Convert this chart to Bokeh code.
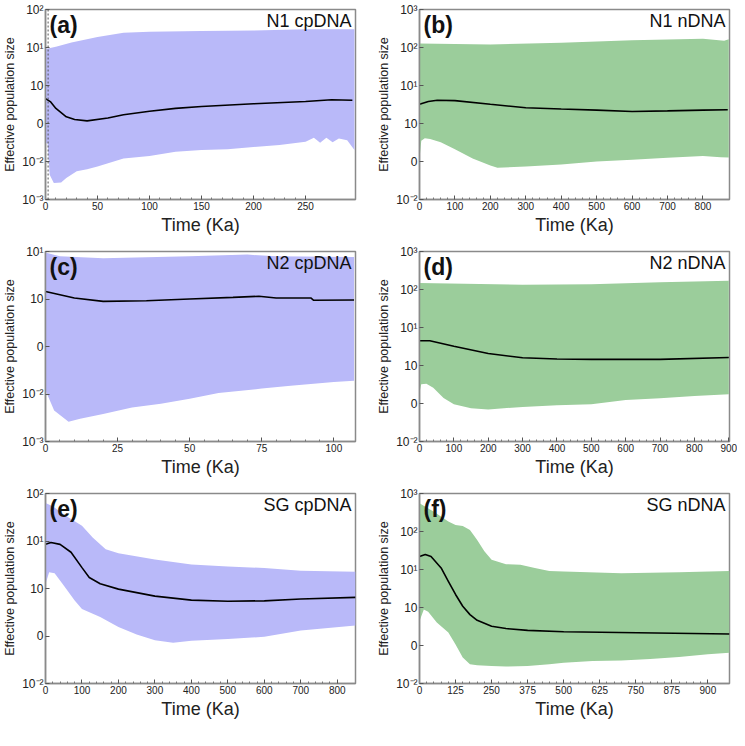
from bokeh.plotting import figure
from bokeh.layouts import column, row
from bokeh.models import FixedTicker, Label, Span, Range1d
from bokeh.embed import file_html
from bokeh.resources import INLINE

# ---------------- data ----------------
# (a) N1 cpDNA
a_up_t = [0, 10, 25, 50, 75, 100, 150, 200, 250, 297]
a_up_v = [9.1, 10.4, 13.5, 19, 24.5, 26, 27, 28, 30, 30]
a_med_t = [0, 5, 10, 20, 28, 40, 60, 75, 100, 125, 150, 200, 250, 275, 295]
a_med_v = [0.45, 0.37, 0.25, 0.15, 0.127, 0.117, 0.14, 0.17, 0.21, 0.25, 0.28, 0.33, 0.38, 0.42, 0.41]
a_lo_t = [0, 2, 4, 8, 15, 20, 30, 40, 50, 75, 100, 125, 150, 175, 200, 225, 250, 258, 264, 270, 276, 282, 290, 297]
a_lo_v = [0.03, 0.03, 0.0045, 0.0027, 0.0028, 0.0037, 0.0055, 0.0063, 0.0074, 0.012, 0.014, 0.018, 0.02, 0.021,
          0.024, 0.027, 0.033, 0.042, 0.031, 0.042, 0.032, 0.04, 0.036, 0.02]
a_marker_t = 2.5
a_xmax = 298

# (b) N1 nDNA
b_up_t = [0, 200, 400, 600, 800, 860, 873]
b_up_v = [128, 120, 134, 154, 170, 150, 165]
b_med_t = [0, 25, 50, 100, 200, 300, 400, 500, 600, 700, 800, 870]
b_med_v = [3.2, 3.8, 4.1, 4.0, 3.2, 2.6, 2.4, 2.25, 2.07, 2.15, 2.25, 2.3]
b_lo_t = [0, 5, 15, 30, 60, 100, 150, 200, 220, 300, 400, 500, 600, 700, 800, 850, 873]
b_lo_v = [0.12, 0.35, 0.41, 0.39, 0.32, 0.21, 0.12, 0.078, 0.068, 0.074, 0.083, 0.1, 0.112, 0.126, 0.14, 0.13, 0.128]
b_xmax = 875

# (c) N2 cpDNA
c_up_t = [0, 5, 20, 50, 70, 80, 107]
c_up_v = [9.5, 7.9, 7.2, 7.9, 8.6, 7.9, 7.7]
c_med_t = [0, 10, 20, 35, 50, 65, 74, 80, 92, 93, 107]
c_med_v = [1.44, 1.05, 0.89, 0.92, 1.0, 1.08, 1.14, 1.05, 1.05, 0.94, 0.95]
c_lo_t = [0, 3, 8, 12, 20, 30, 40, 50, 60, 75, 85, 100, 107]
c_lo_v = [0.012, 0.0045, 0.0026, 0.003, 0.0038, 0.0052, 0.0062, 0.0079, 0.0105, 0.013, 0.015, 0.0178, 0.019]
c_xmax = 107.5

# (d) N2 nDNA
d_up_t = [0, 300, 500, 700, 900]
d_up_v = [148, 134, 138, 154, 170]
d_med_t = [0, 30, 100, 200, 300, 400, 500, 700, 900]
d_med_v = [4.5, 4.5, 3.2, 2.07, 1.6, 1.48, 1.45, 1.45, 1.63]
d_lo_t = [0, 5, 20, 40, 70, 100, 150, 200, 300, 400, 500, 600, 700, 800, 900]
d_lo_v = [0.2, 0.32, 0.33, 0.26, 0.14, 0.095, 0.075, 0.07, 0.081, 0.09, 0.095, 0.124, 0.137, 0.158, 0.174]
d_xmax = 902

# (e) SG cpDNA
e_up_t = [0, 20, 50, 80, 100, 130, 165, 200, 300, 400, 500, 600, 700, 850]
e_up_v = [63, 54, 36, 26, 21, 11.7, 6.7, 5.5, 4.1, 3.2, 2.9, 2.7, 2.35, 2.25]
e_med_t = [0, 15, 40, 70, 100, 120, 150, 200, 300, 400, 500, 600, 700, 850]
e_med_v = [8.5, 9.3, 8.5, 5.8, 2.75, 1.7, 1.26, 0.97, 0.69, 0.57, 0.54, 0.55, 0.6, 0.65]
e_lo_t = [0, 10, 25, 50, 80, 100, 150, 200, 250, 300, 350, 400, 500, 600, 700, 850]
e_lo_v = [1.24, 2.2, 2.1, 1.15, 0.56, 0.37, 0.25, 0.155, 0.107, 0.081, 0.072, 0.079, 0.086, 0.096, 0.13, 0.166]
e_xmax = 850

# (f) SG nDNA
f_up_t = [0, 50, 100, 125, 150, 175, 200, 225, 250, 300, 350, 400, 450, 500, 700, 900, 1075]
f_up_v = [550, 330, 182, 148, 140, 110, 60, 30, 18, 13.8, 13.3, 10.9, 9.2, 8.9, 8.0, 8.5, 9.2]
f_med_t = [0, 20, 40, 75, 100, 125, 150, 175, 200, 250, 300, 375, 500, 1075]
f_med_v = [22, 25, 22, 11, 4.9, 2.2, 1.08, 0.65, 0.46, 0.32, 0.28, 0.25, 0.23, 0.2]
f_lo_t = [0, 15, 30, 60, 100, 125, 150, 175, 200, 250, 300, 375, 450, 500, 600, 700, 800, 900, 1000, 1075]
f_lo_v = [0.44, 0.88, 0.77, 0.4, 0.22, 0.107, 0.048, 0.032, 0.03, 0.029, 0.028, 0.029, 0.032, 0.035, 0.039,
          0.04, 0.044, 0.05, 0.059, 0.064]
f_xmax = 1075

# tick labels
y_tick_labels = {1000: "10³", 100: "10²", 10: "10¹", 1: "10", 0.1: "0", 0.01: "10⁻²", 0.001: "10⁻³"}
a_xticks = [0, 50, 100, 150, 200, 250]
b_xticks = [0, 100, 200, 300, 400, 500, 600, 700, 800]
c_xticks = [0, 25, 50, 75, 100]
d_xticks = [0, 100, 200, 300, 400, 500, 600, 700, 800, 900]
e_xticks = [0, 100, 200, 300, 400, 500, 600, 700, 800]
f_xticks = [0, 125, 250, 375, 500, 625, 750, 875, 1000]
f_xtick_labels = {1000: "900"}

titles = ["N1 cpDNA", "N1 nDNA", "N2 cpDNA", "N2 nDNA", "SG cpDNA", "SG nDNA"]
letters = ["(a)", "(b)", "(c)", "(d)", "(e)", "(f)"]

BLUE = "#b9b9f9"
GREEN = "#9bcd9b"
FONT = "Liberation Sans"
FW, FH = 310, 190


def make_panel(left, up_t, up_v, med_t, med_v, lo_t, lo_v, xmax, ylo, yhi, xticks,
               color, letter, title, xlabels=None):
    p = figure(frame_width=FW, frame_height=FH, output_backend="svg", toolbar_location=None,
               y_axis_type="log", x_range=Range1d(0, xmax), y_range=Range1d(ylo, yhi),
               min_border_left=32 if left else 58, min_border_right=6 if left else 8,
               min_border_top=9, min_border_bottom=43)
    p.xgrid.visible = False
    p.ygrid.visible = False
    p.background_fill_color = "white"
    p.border_fill_color = "white"
    p.outline_line_color = "#8a8a8a"
    p.outline_line_width = 1.5

    xs = list(up_t) + list(lo_t[::-1])
    ys = list(up_v) + list(lo_v[::-1])
    p.patch(xs, ys, fill_color=color, line_color=None)
    p.line(med_t, med_v, line_color="black", line_width=1.6)

    # y axis
    yt = [v for v in [0.001, 0.01, 0.1, 1, 10, 100, 1000] if ylo <= v <= yhi]
    p.yaxis.ticker = FixedTicker(ticks=yt)
    p.yaxis.major_label_overrides = {k: v for k, v in y_tick_labels.items() if k in yt}
    p.yaxis.axis_label = "Effective population size"
    # x axis
    minor = []
    for i in range(len(xticks) - 1):
        step = (xticks[i + 1] - xticks[i]) / 5
        minor += [xticks[i] + step * k for k in range(1, 5)]
    p.xaxis.ticker = FixedTicker(ticks=xticks, minor_ticks=minor)
    if xlabels:
        p.xaxis.major_label_overrides = xlabels
    p.xaxis.axis_label = "Time (Ka)"

    for ax in (p.xaxis[0], p.yaxis[0]):
        ax.axis_line_color = "#8a8a8a"
        ax.axis_line_width = 1.5
        ax.major_tick_in = 4
        ax.major_tick_out = 0
        ax.minor_tick_in = 2
        ax.minor_tick_out = 0
        ax.major_tick_line_color = "#555555"
        ax.minor_tick_line_color = "#777777"
        ax.major_label_text_font = FONT
        ax.major_label_text_color = "#222222"
        ax.axis_label_text_font = FONT
        ax.axis_label_text_font_style = "normal"
        ax.axis_label_text_color = "#222222"
    p.yaxis.major_label_text_font_size = "12px"
    p.yaxis.major_label_standoff = 2
    p.yaxis.axis_label_text_font_size = "12.5px"
    p.yaxis.axis_label_standoff = 2
    p.xaxis.major_label_text_font_size = "10px"
    p.xaxis.major_label_standoff = 2
    p.xaxis.axis_label_text_font_size = "18px"
    p.xaxis.axis_label_standoff = 2

    p.add_layout(Label(x=4, y=FH - 2, x_units="screen", y_units="screen", text=letter,
                       text_font=FONT, text_font_style="bold", text_font_size="23px",
                       text_baseline="top", text_align="left", text_color="#111111"))
    p.add_layout(Label(x=FW - 4, y=FH - 1, x_units="screen", y_units="screen", text=title,
                       text_font=FONT, text_font_size="18px",
                       text_baseline="top", text_align="right", text_color="#111111"))
    return p


pa = make_panel(True, a_up_t, a_up_v, a_med_t, a_med_v, a_lo_t, a_lo_v, a_xmax, 1e-3, 1e2,
                a_xticks, BLUE, letters[0], titles[0])
pa.add_layout(Span(location=a_marker_t, dimension="height", line_color="#555555",
                   line_dash="2 2", line_width=1))
pb = make_panel(False, b_up_t, b_up_v, b_med_t, b_med_v, b_lo_t, b_lo_v, b_xmax, 1e-2, 1e3,
                b_xticks, GREEN, letters[1], titles[1])
pc = make_panel(True, c_up_t, c_up_v, c_med_t, c_med_v, c_lo_t, c_lo_v, c_xmax, 1e-3, 1e1,
                c_xticks, BLUE, letters[2], titles[2])
pd = make_panel(False, d_up_t, d_up_v, d_med_t, d_med_v, d_lo_t, d_lo_v, d_xmax, 1e-2, 1e3,
                d_xticks, GREEN, letters[3], titles[3])
pe = make_panel(True, e_up_t, e_up_v, e_med_t, e_med_v, e_lo_t, e_lo_v, e_xmax, 1e-2, 1e2,
                e_xticks, BLUE, letters[4], titles[4])
pf = make_panel(False, f_up_t, f_up_v, f_med_t, f_med_v, f_lo_t, f_lo_v, f_xmax, 1e-2, 1e3,
                f_xticks, GREEN, letters[5], titles[5], f_xtick_labels)

layout = column(row(pa, pb), row(pc, pd), row(pe, pf))
open("out.html", "w").write(file_html(layout, INLINE))
